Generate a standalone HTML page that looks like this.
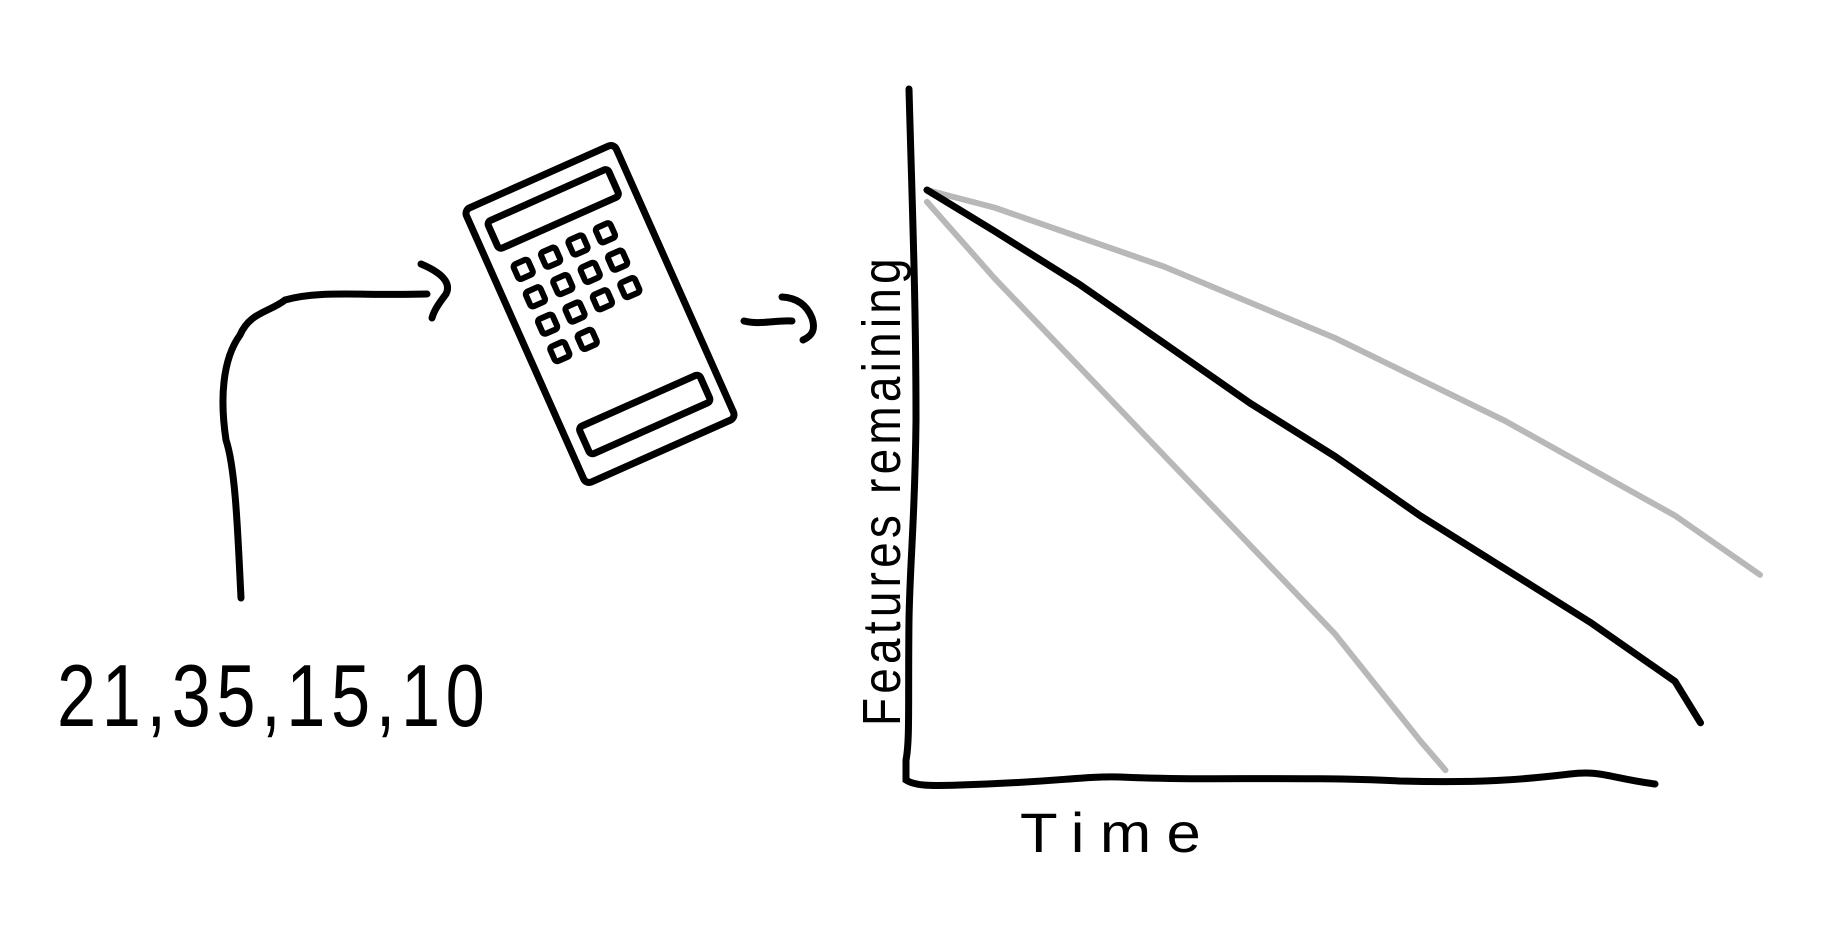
<!DOCTYPE html>
<html><head><meta charset="utf-8"><style>
html,body{margin:0;padding:0;background:#fff;}
svg{display:block;}
text{font-family:"Liberation Sans",sans-serif;}
</style></head><body>
<svg width="1848" height="946" viewBox="0 0 1848 946">
<g>
<text x="0" y="0" font-size="88" letter-spacing="7" transform="translate(57 726) scale(0.8 1)" fill="#000">21,35,15,10</text>
</g>
<path d="M241 598 C238 540 236 470 226 440 C220 400 222 360 240 335 C250 312 270 312 285 300 C320 290 360 296 427 294" fill="none" stroke="#000" stroke-width="7" stroke-linecap="round"/>
<path d="M421 264 C440 272 452 282 446 294 C440 302 434 310 432 318" fill="none" stroke="#000" stroke-width="7" stroke-linecap="round"/>
<g transform="translate(600 314) rotate(-24)" fill="none" stroke="#000" stroke-width="7" stroke-linejoin="round" stroke-linecap="round">
<rect x="-82" y="-150" width="164" height="300" rx="6"/>
<rect x="-66" y="-130" width="132" height="30" rx="4"/>
<g stroke-width="6">
<rect x="-60" y="-80" width="16" height="16" rx="3"/><rect x="-30" y="-80" width="16" height="16" rx="3"/><rect x="0" y="-80" width="16" height="16" rx="3"/><rect x="30" y="-80" width="16" height="16" rx="3"/>
<rect x="-60" y="-50" width="16" height="16" rx="3"/><rect x="-30" y="-50" width="16" height="16" rx="3"/><rect x="0" y="-50" width="16" height="16" rx="3"/><rect x="30" y="-50" width="16" height="16" rx="3"/>
<rect x="-60" y="-20" width="16" height="16" rx="3"/><rect x="-30" y="-20" width="16" height="16" rx="3"/><rect x="0" y="-20" width="16" height="16" rx="3"/><rect x="30" y="-20" width="16" height="16" rx="3"/>
<rect x="-60" y="10" width="16" height="16" rx="3"/><rect x="-30" y="10" width="16" height="16" rx="3"/>
</g>
<rect x="-66" y="95" width="132" height="30" rx="4"/>
</g>
<path d="M744 321 C760 325 775 320 792 321" fill="none" stroke="#000" stroke-width="7" stroke-linecap="round"/>
<path d="M782 297 C800 298 808 308 812 318 C816 330 812 336 803 340" fill="none" stroke="#000" stroke-width="7" stroke-linecap="round"/>
<g id="chart"></g>
<text x="0" y="0" font-size="54" letter-spacing="5" transform="translate(900 726) rotate(-90) scale(0.85 1)" fill="#000">Features remaining</text>
<text x="0" y="0" font-size="56" letter-spacing="14" fill="#000" transform="translate(1020 852) scale(1.1 1)">Time</text>
</svg>
<script>
const times = [0.2, 1, 2, 3, 4, 5, 6, 7, 8, 9, 9.3];
const middleSeries = [100, 93, 84, 74, 64, 55, 45, 36, 27, 17, 10];
const upperTimes = [0.2, 1, 2, 3, 4, 5, 6, 7, 8, 9, 10];
const upperSeries = [100, 97, 92, 87, 81, 75, 68, 61, 53, 45, 35];
const lowerTimes = [0.2, 1, 2, 3, 4, 5, 6, 6.3];
const lowerSeries = [98, 85, 70, 55, 40, 25, 7, 2];
const NS = 'http://www.w3.org/2000/svg';
const xS = t => 910 + t * 85;
const yS = v => 782 - v * 5.92;
const chart = document.getElementById('chart');
function line(ts, vs, color, w, name) {
  const p = document.createElementNS(NS, 'path');
  p.setAttribute('d', ts.map((t, i) => (i ? 'L' : 'M') + xS(t) + ' ' + yS(vs[i])).join(' '));
  p.setAttribute('fill', 'none');
  p.setAttribute('stroke', color);
  p.setAttribute('stroke-width', w);
  p.setAttribute('stroke-linecap', 'round');
  p.setAttribute('stroke-linejoin', 'round');
  
  
  chart.appendChild(p);
}
line(upperTimes, upperSeries, '#b8b8b8', 6, 'upper-gray-line');
line(lowerTimes, lowerSeries, '#b8b8b8', 6, 'lower-gray-line');
line(times, middleSeries, '#000', 7, 'middle-black-line');
const ax = document.createElementNS(NS, 'path');
ax.setAttribute('d', 'M909 89 C912 200 916 300 916 420 C915 520 910 560 909 620 C908 700 910 740 906 760 L906 780 C915 786 930 786 960 785 C1060 782 1080 776 1120 777 C1200 781 1300 776 1400 781 C1480 783 1520 780 1570 774 C1600 770 1610 778 1655 784');
ax.setAttribute('fill', 'none');
ax.setAttribute('stroke', '#000');
ax.setAttribute('stroke-width', '7');
ax.setAttribute('stroke-linecap', 'round');


chart.appendChild(ax);
</script>
</body></html>
